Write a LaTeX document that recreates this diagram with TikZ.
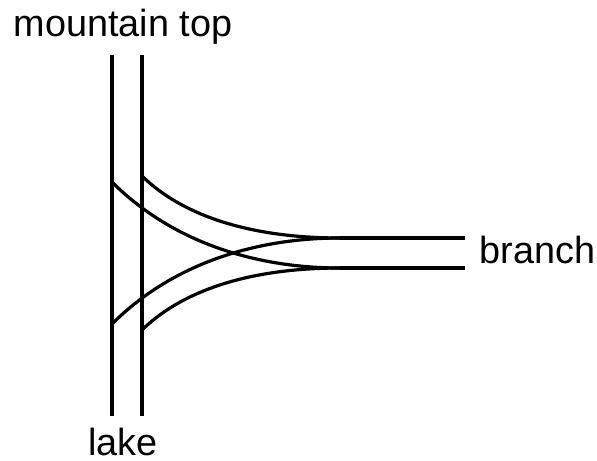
\documentclass[tikz,border=0pt]{standalone}
\usepackage{fontspec}
\setmainfont{Liberation Sans}
\begin{document}
\begin{tikzpicture}[x=0.5pt,y=-0.5pt,line width=1.6pt,font=\fontsize{18.9}{22}\selectfont,
  every node/.style={inner sep=0pt}]
\useasboundingbox (0,0) rectangle (597,460);

\begin{scope}
% main valley
\coordinate (l1) at (112,55);
\coordinate (l2) at (112,416);
\coordinate (r1) at (142,55);
\coordinate (r2) at (142,416);
% side valley
\coordinate (u1) at (340,238);
\coordinate (u2) at (465,238);
\coordinate (d1) at (340,268);
\coordinate (d2) at (465,268);
% where the curves leave the main valley
\coordinate (la) at (112,182);
\coordinate (lc) at (112,324);
\coordinate (rb) at (142,176);
\coordinate (rd) at (142,330);

\node[anchor=base] (top) at (123,37) {mountain top};
\node[anchor=base] (lake) at (123,455) {lake};
\node[anchor=base west] (branch) at (478,263) {branch};

\draw (l1) -- (l2);
\draw (r1) -- (r2);
\draw (u1) -- (u2);
\draw (d1) -- (d2);

\draw (la) .. controls (172,242) and (255,268) .. (d1);
\draw (lc) .. controls (172,264) and (255,238) .. (u1);
\draw (rb) .. controls (185,218) and (255,238) .. (u1);
\draw (rd) .. controls (185,288) and (255,268) .. (d1);
\end{scope}

\end{tikzpicture}
\end{document}
